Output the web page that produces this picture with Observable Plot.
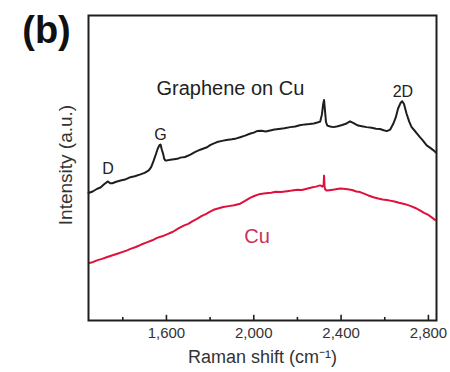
<!DOCTYPE html>
<html><head><meta charset="utf-8">
<script src="https://cdn.jsdelivr.net/npm/d3@7"></script>
<script src="https://cdn.jsdelivr.net/npm/@observablehq/plot@0.6"></script>
<style>body{margin:0;background:#fff}#chart{width:450px;height:372px}</style>
</head><body><div id="chart"></div><script>
// Raman shift (cm-1) and intensity (a.u.)
const grapheneShift = [1243,1262,1283,1298,1313,1332,1342,1352,1370,1390,1410,1435,1455,1481,1500,1519,1530,1542,1552,1560,1568,1573,1579,1585,1590,1595,1603,1618,1635,1650,1664,1685,1710,1730,1755,1770,1786,1800,1815,1832,1855,1875,1900,1920,1938,1960,1985,2000,2015,2035,2055,2075,2095,2115,2140,2167,2190,2210,2235,2255,2275,2295,2304,2312,2318,2322,2326,2331,2337,2350,2365,2385,2405,2425,2441,2455,2478,2495,2517,2540,2560,2578,2595,2609,2625,2639,2650,2661,2672,2680,2688,2700,2712,2723,2742,2761,2775,2792,2810,2825,2834];
const grapheneIntensity = [41.8,42.3,43.2,43.6,44.6,45.6,45.0,45.0,45.5,45.9,46.2,47.0,47.3,47.9,48.4,49.2,50.3,52.5,54.6,56.3,57.5,57.7,56.0,54.6,53.0,52.5,52.5,52.7,52.9,53.0,53.4,53.6,54.4,55.2,56.0,56.4,56.8,57.5,58.0,58.5,58.9,59.2,59.4,59.7,60.1,60.6,61.3,61.6,62.1,62.2,62.0,62.3,62.6,62.8,63.0,63.4,63.6,64.0,64.3,64.4,64.6,65.0,65.2,67.5,71.0,72.3,69.0,65.0,63.9,63.6,63.4,63.7,64.1,64.6,65.3,64.8,63.9,63.7,63.4,63.2,62.9,62.8,62.4,62.1,62.6,64.5,66.5,69.5,71.3,71.9,71.0,67.8,65.2,63.4,61.8,60.1,59.0,57.4,56.5,55.7,55.1];
const cuShift = [1245,1265,1285,1305,1329,1350,1375,1400,1420,1435,1460,1485,1510,1535,1557,1580,1605,1630,1655,1679,1700,1720,1740,1760,1780,1800,1816,1840,1860,1885,1910,1938,1960,1985,2005,2030,2055,2080,2100,2125,2152,2175,2200,2220,2243,2265,2285,2304,2315,2320,2322,2324,2327,2335,2355,2375,2395,2410,2430,2450,2470,2487,2505,2525,2548,2570,2590,2610,2624,2645,2665,2685,2700,2720,2740,2761,2780,2800,2815,2830];
const cuIntensity = [18.8,19.2,19.8,20.2,20.8,21.3,21.9,22.5,23.0,23.5,24.1,24.9,25.6,26.3,27.1,27.6,28.3,29.1,30.2,31.1,31.7,32.6,33.3,34.2,34.9,35.7,36.3,36.8,37.2,37.5,37.8,38.3,39.2,40.3,40.9,41.5,41.7,41.9,42.2,42.1,42.4,42.6,42.9,42.8,43.2,43.6,43.9,44.3,43.9,44.5,47.5,44.0,43.0,42.6,42.8,43.0,43.3,43.2,43.0,42.8,42.3,42.1,41.6,41.0,40.4,40.0,39.7,39.5,39.3,39.0,38.6,38.3,38.0,37.5,36.9,36.1,35.3,34.6,33.8,33.0];
const majorTicks = [1600, 2000, 2400, 2800];
const minorTicks = [1400, 1800, 2200, 2600];
const peakLabels = ["D", "G", "2D"];
const peakShift = [1333, 1573, 2683];
const peakLabelIntensity = [49.6, 61.0, 75.1];

const graphene = grapheneShift.map((x, i) => ({x, y: grapheneIntensity[i]}));
const cu = cuShift.map((x, i) => ({x, y: cuIntensity[i]}));
const peaks = peakLabels.map((t, i) => ({t, x: peakShift[i], y: peakLabelIntensity[i]}));

const ink = "#1e1e1e";
const red = "#e0103c";

const plot = Plot.plot({
  width: 450, height: 372,
  marginTop: 15, marginBottom: 52, marginLeft: 88, marginRight: 14,
  style: {fontFamily: "'Liberation Sans', Arial, sans-serif", background: "#fff", overflow: "visible", color: ink},
  x: {domain: [1243, 2837]},
  y: {domain: [0, 100]},
  marks: [
    Plot.axisX({ticks: majorTicks, tickSize: 0, tickPadding: 7, tickFormat: d3.format(","), fontSize: 15, label: null, fill: "#333"}),
    Plot.axisY({ticks: [], label: null}),
    Plot.ruleX(majorTicks, {x: d => d, y1: 0, y2: 1.7, stroke: ink, strokeWidth: 1.6}),
    Plot.ruleX(minorTicks, {x: d => d, y1: 0, y2: 1.0, stroke: ink, strokeWidth: 1.6}),
    Plot.line(cu, {x: "x", y: "y", stroke: red, strokeWidth: 2}),
    Plot.line(graphene, {x: "x", y: "y", stroke: ink, strokeWidth: 2}),
    Plot.frame({stroke: ink, strokeWidth: 2}),
    Plot.text(peaks, {x: "x", y: "y", text: "t", fontSize: 16, fill: "#222"}),
    Plot.text(["Graphene on Cu"], {x: 1893, y: 76.1, fontSize: 20, fill: "#222"}),
    Plot.text(["Cu"], {x: 2015, y: 27.6, fontSize: 20, fill: "#c8305a"}),
    Plot.text(["(b)"], {frameAnchor: "top-left", textAnchor: "middle", lineAnchor: "middle", dx: -42, dy: 15, fontSize: 38, fontWeight: "bold", fill: "#111"}),
    Plot.text(["Intensity (a.u.)"], {frameAnchor: "left", textAnchor: "middle", lineAnchor: "middle", dx: -23, dy: -3, rotate: -90, fontSize: 19, fill: "#333"}),
    Plot.text(["Raman shift (cm\u207B\u00B9)"], {frameAnchor: "bottom", lineAnchor: "middle", dy: 37, fontSize: 18, fill: "#333"})
  ]
});
document.getElementById("chart").append(plot);
</script></body></html>
